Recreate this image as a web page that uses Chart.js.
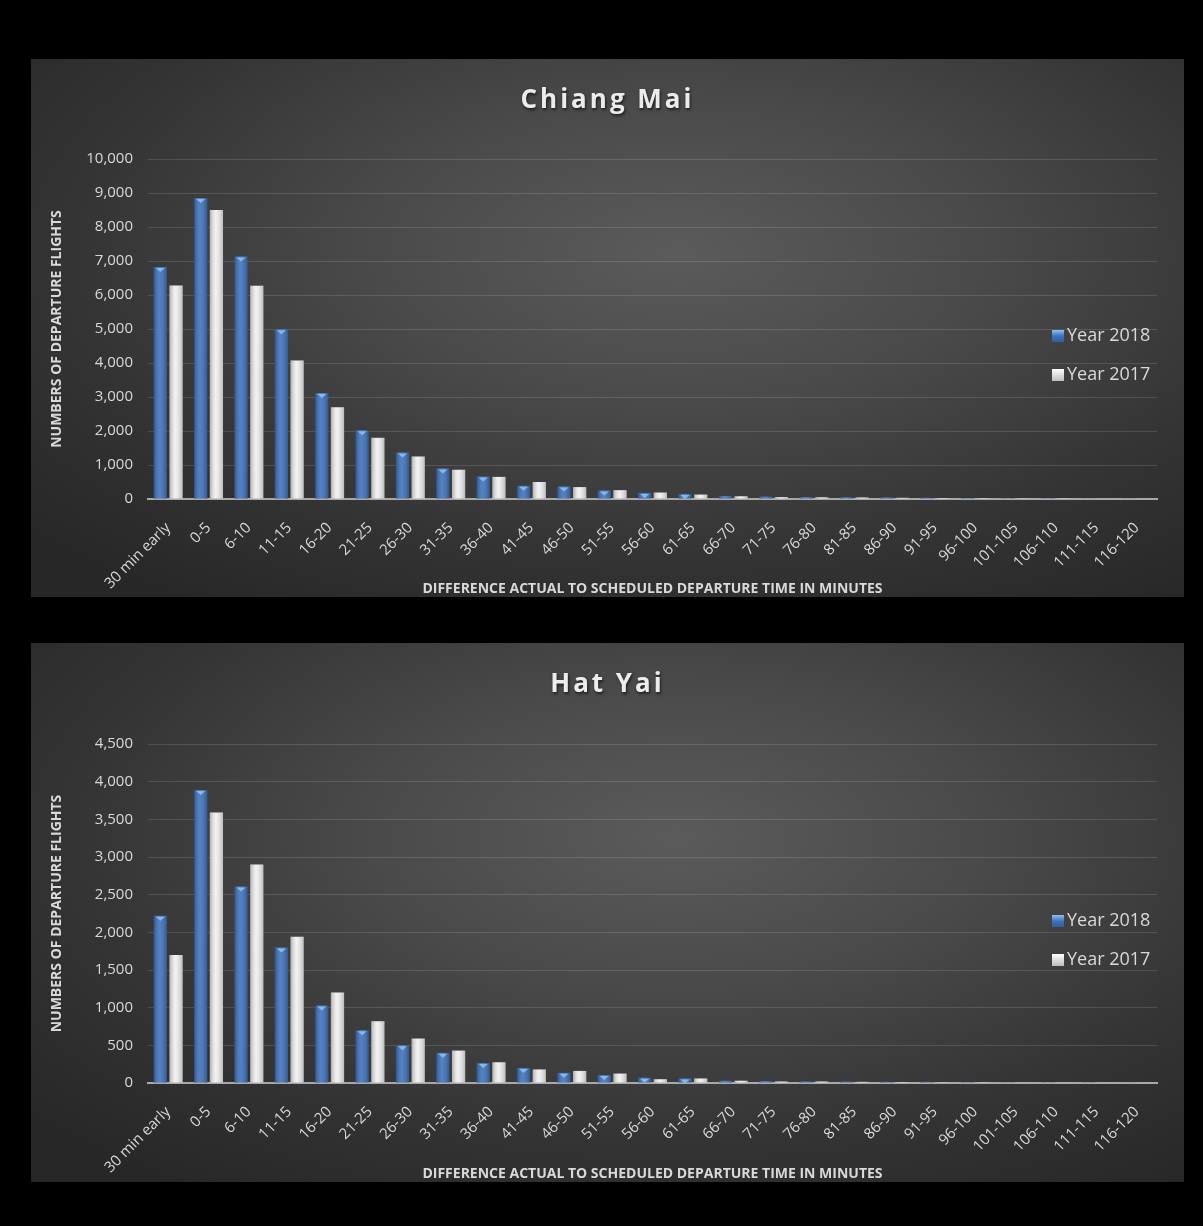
<!DOCTYPE html>
<html>
<head>
<meta charset="utf-8">
<title>Departure delays - Chiang Mai / Hat Yai</title>
<script src="https://cdn.jsdelivr.net/npm/chart.js@4.4.1/dist/chart.umd.min.js"></script>
<style>
  html, body { margin: 0; padding: 0; background: #000; width: 1203px; height: 1226px; overflow: hidden; }
  .panel {
    position: absolute; left: 31px; width: 1153px;
    background: radial-gradient(ellipse 75% 80% at 56% 36%, #5b5b5b 0%, #4a4a4a 35%, #343434 70%, #272727 100%);
  }
  .panel canvas { position: absolute; left: 0; top: 0; }
  .panel h2 {
    position: absolute; left: 0; right: 0; top: 21px; margin: 0;
    text-align: center; line-height: 32px;
    font: bold 26px 'Open Sans', sans-serif; letter-spacing: 3px;
    color: #ececec; text-shadow: 1px 2px 3px rgba(0, 0, 0, 0.6);
  }
</style>
</head>
<body>
<div class="panel" style="top:59px;height:538px;">
  <canvas id="chiangMai"></canvas>
  <h2>Chiang Mai</h2>
</div>
<div class="panel" style="top:643px;height:539px;">
  <canvas id="hatYai"></canvas>
  <h2>Hat Yai</h2>
</div>
<script>
const categories = ["30 min early", "0-5", "6-10", "11-15", "16-20", "21-25", "26-30", "31-35", "36-40",
    "41-45", "46-50", "51-55", "56-60", "61-65", "66-70", "71-75", "76-80", "81-85", "86-90",
    "91-95", "96-100", "101-105", "106-110", "111-115", "116-120"];

// Chiang Mai
const chiangMai2018 = [6820, 8850, 7130, 4990, 3120, 2020, 1370, 900, 660, 390, 370, 250, 180,
    150, 90, 70, 55, 50, 45, 35, 30, 25, 25, 20, 20];
const chiangMai2017 = [6280, 8500, 6270, 4070, 2700, 1800, 1250, 860, 650, 500, 350, 260, 190,
    130, 80, 55, 50, 45, 35, 30, 25, 20, 20, 15, 15];
const chiangMaiTicks = {max: 10000, step: 1000};

// Hat Yai
const hatYai2018 = [2220, 3890, 2610, 1800, 1030, 700, 500, 400, 265, 200, 135, 105, 70,
    60, 30, 25, 20, 18, 15, 15, 12, 10, 10, 10, 8];
const hatYai2017 = [1700, 3590, 2900, 1940, 1200, 820, 590, 430, 275, 180, 160, 125, 50,
    60, 30, 20, 20, 15, 12, 10, 10, 8, 8, 6, 6];
const hatYaiTicks = {max: 4500, step: 500};

const seriesNames = ["Year 2018", "Year 2017"];
const blue = "#3f72bb";
const white = "#f0f0f0";
const textColor = "#d9d9d9";

Chart.defaults.font.family = "'Open Sans', sans-serif";

// shading on each bar so they look like the excel 3d-ish columns
const barShade = {
    id: "barShade",
    afterDatasetsDraw(chart) {
        const ctx = chart.ctx;
        chart.data.datasets.forEach((ds, i) => {
            const meta = chart.getDatasetMeta(i);
            meta.data.forEach((bar) => {
                const left = bar.x - bar.width / 2;
                const h = bar.base - bar.y;
                if (h <= 0) return;
                let g = ctx.createLinearGradient(left, 0, left + bar.width, 0);
                g.addColorStop(0, "rgba(0,0,0,0.28)");
                g.addColorStop(0.45, "rgba(255,255,255,0.10)");
                g.addColorStop(1, "rgba(0,0,0,0.22)");
                ctx.save();
                ctx.fillStyle = g;
                ctx.fillRect(left, bar.y, bar.width, h);
                if (i === 0 && h > 4) {
                    // light cap on top of the blue columns
                    ctx.fillStyle = "rgba(140,195,245,0.85)";
                    ctx.beginPath();
                    ctx.moveTo(left + 2, bar.y + 1);
                    ctx.lineTo(left + bar.width - 2, bar.y + 1);
                    ctx.lineTo(bar.x, bar.y + 5);
                    ctx.closePath();
                    ctx.fill();
                }
                ctx.restore();
            });
        });
    }
};

// legend drawn over the right side of the plot area
const sideLegend = {
    id: "sideLegend",
    afterDraw(chart) {
        const ctx = chart.ctx;
        const area = chart.chartArea;
        const x = area.right - 105;
        chart.data.datasets.forEach((ds, i) => {
            const y = area.top + 177 + i * 39;
            ctx.save();
            let g = ctx.createLinearGradient(x, y - 6, x, y + 6);
            if (i === 0) {
                g.addColorStop(0, "#8cc3f5");
                g.addColorStop(0.5, "#3f72bb");
                g.addColorStop(1, "#2f5d9e");
            } else {
                g.addColorStop(0, "#ffffff");
                g.addColorStop(1, "#bdbdbd");
            }
            ctx.fillStyle = g;
            ctx.fillRect(x, y - 6, 12, 12);
            ctx.fillStyle = textColor;
            ctx.font = "18px 'Open Sans', sans-serif";
            ctx.textBaseline = "middle";
            ctx.fillText(ds.label, x + 15, y);
            ctx.restore();
        });
    }
};

function makeChart(id, data2018, data2017, ticks, padTop, xHeight) {
    return new Chart(id, {
        type: "bar",
        data: {
            labels: categories,
            datasets: [
                {label: seriesNames[0], data: data2018, backgroundColor: blue,
                    categoryPercentage: 0.78, barPercentage: 0.84},
                {label: seriesNames[1], data: data2017, backgroundColor: white,
                    categoryPercentage: 0.78, barPercentage: 0.84}
            ]
        },
        options: {
            responsive: true,
            maintainAspectRatio: false,
            animation: false,
            layout: {padding: {top: padTop, right: 27, left: 0, bottom: 0}},
            plugins: {
                legend: {display: false},
                title: {display: false},
                tooltip: {enabled: false}
            },
            scales: {
                x: {
                    offset: true,
                    grid: {display: false, drawTicks: false},
                    border: {color: "#a9a9a9", width: 2},
                    ticks: {color: textColor, font: {size: 15}, minRotation: 45, maxRotation: 45,
                        autoSkip: false, padding: 20},
                    title: {display: true, text: "DIFFERENCE ACTUAL TO SCHEDULED DEPARTURE TIME IN MINUTES",
                        color: textColor, font: {size: 14, weight: "bold"}, padding: {top: 5, bottom: 0}},
                    afterFit: (s) => { s.height = xHeight; }
                },
                y: {
                    min: 0,
                    max: ticks.max,
                    ticks: {stepSize: ticks.step, color: textColor, font: {size: 15}, padding: 15},
                    grid: {color: "rgba(255,255,255,0.13)", drawTicks: false},
                    border: {display: false},
                    title: {display: true, text: "NUMBERS OF DEPARTURE FLIGHTS", color: textColor,
                        font: {size: 14, weight: "bold"}, padding: {top: 18, bottom: 0}},
                    afterFit: (s) => { s.width = 117; }
                }
            }
        },
        plugins: [barShade, sideLegend]
    });
}

makeChart("chiangMai", chiangMai2018, chiangMai2017, chiangMaiTicks, 100, 98);
makeChart("hatYai", hatYai2018, hatYai2017, hatYaiTicks, 101, 99);
</script>
</body>
</html>
